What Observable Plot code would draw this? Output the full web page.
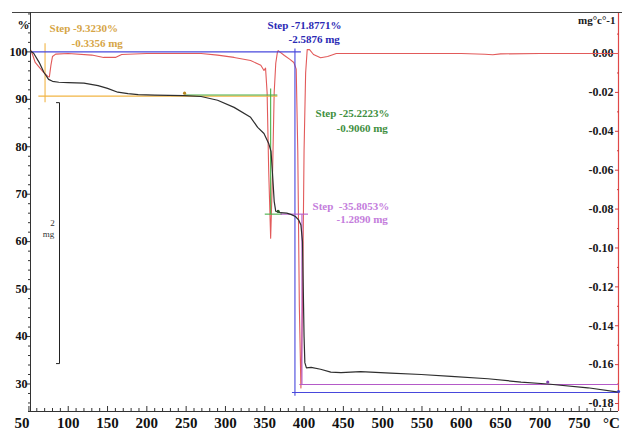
<!DOCTYPE html>
<html><head><meta charset="utf-8">
<script src="https://cdn.jsdelivr.net/npm/d3@7"></script>
<script src="https://cdn.jsdelivr.net/npm/@observablehq/plot@0.6"></script>
<style>
body{margin:0;background:#fff;}
#wrap{position:relative;width:622px;height:430px;overflow:hidden;}
#wrap svg{position:absolute;left:0;top:0;}
</style></head><body><div id="wrap"></div>
<script>
// ---- TG curve (weight %, left axis) ----
const tgTemp = [52, 56, 63, 69, 75, 80, 88, 100, 120, 138, 150, 163, 176, 189, 210, 247, 269, 290, 311, 332, 341, 349, 355, 358, 360, 362, 364, 370, 378, 384, 389, 393, 396, 398, 399, 400, 401, 403, 409, 421, 434, 447, 472, 510, 549, 587, 634, 676, 710, 761, 800];
const tgPct  = [100.2, 99.7, 97.8, 95.7, 94.2, 93.8, 93.6, 93.5, 93.4, 92.9, 92.3, 91.5, 91.2, 91.0, 90.9, 90.8, 90.6, 89.8, 88.3, 86.2, 84.1, 82.8, 80.7, 79.0, 74.0, 68.5, 66.4, 66.1, 66.0, 65.7, 65.3, 64.6, 63.5, 60.0, 50.0, 40.0, 34.5, 33.4, 33.5, 33.1, 32.5, 32.4, 32.6, 32.3, 32.0, 31.6, 31.1, 30.4, 30.0, 29.2, 28.3];

// ---- DTG curve (mg/°C, right axis) ----
const dtgTemp = [52, 55, 58, 63, 69, 74, 76, 78, 80, 84, 100, 130, 145, 160, 168, 200, 269, 290, 311, 332, 345, 349, 351, 353, 355, 357.5, 360, 362, 364, 366, 367, 375, 382, 387, 390, 392, 394, 396, 398, 400, 402, 404, 407, 412, 421, 430, 441, 460, 600, 630, 640, 650, 700, 800];
const dtgVal  = [0.002, -0.001, -0.0046, -0.007, -0.0098, -0.0118, -0.012, -0.006, -0.0015, -0.0003, 0, -0.0008, -0.002, -0.002, -0.0005, 0, 0, -0.0008, -0.002, -0.0036, -0.006, -0.0087, -0.0075, -0.02, -0.06, -0.095, -0.06, -0.02, -0.005, 0.0005, 0.0015, -0.001, -0.003, -0.0046, -0.008, -0.05, -0.13, -0.172, -0.13, -0.05, -0.01, 0.002, 0.002, -0.0005, -0.0022, -0.0015, 0, 0, 0, -0.0004, -0.0006, -0.0002, 0, 0];

// ---- ticks ----
const xTicks = [50, 100, 150, 200, 250, 300, 350, 400, 450, 500, 550, 600, 650, 700, 750];
const xMinor = d3.range(60, 800, 10).filter(t => t % 50 !== 0);
const leftTicks = [30, 40, 50, 60, 70, 80, 90, 100];
const leftMinor = d3.range(26, 109, 2).filter(t => t % 10 !== 0);
const rightTicks = [0, -0.02, -0.04, -0.06, -0.08, -0.10, -0.12, -0.14, -0.16, -0.18];
const rightMinor = [0.01, -0.01, -0.03, -0.05, -0.07, -0.09, -0.11, -0.13, -0.15, -0.17];

// ---- step annotations ----
const stepNames  = ["orange", "blue", "green", "violet"];
const stepTitle  = ["Step -9.3230%", "Step -71.8771%", "Step -25.2223%", "Step\u00a0 -35.8053%"];
const stepMass   = ["-0.3356 mg", "-2.5876 mg", "-0.9060 mg", "-1.2890 mg"];
const stepT1 = [76.2, 353.5, 414.6, 410.8];
const stepP1 = [104.9, 105.6, 87.0, 67.4];
const stepT2 = [104.2, 380.2, 441.3, 441.3];
const stepP2 = [101.8, 102.6, 83.8, 64.7];
const textColor = {orange: "#d6a546", blue: "#2a2ab4", green: "#3f8f3f", violet: "#c47ddc"};
const lineColor = {orange: "#f2b545", blue: "#4848dc", green: "#48b048", violet: "#b45ac8"};

// step construction lines
const segStep = ["orange", "orange", "blue", "blue", "blue", "green", "green", "green", "violet", "violet", "violet"];
const segX1 = [62, 70.5, 52, 388.4, 384.6, 248, 357.5, 350, 370, 397.3, 394];
const segX2 = [366, 70.5, 396, 388.4, 800, 366, 357.5, 372, 405, 397.3, 800];
const segY1 = [90.68, 101.8, 100, 100.7, 28.2, 90.9, 92.3, 65.8, 65.8, 65.8, 29.9];
const segY2 = [90.68, 89.4, 100, 27.5, 28.2, 90.9, 65.8, 65.8, 65.8, 29.9, 29.9];

// 2 mg scale bar
const barX1 = [88.9, 84.5, 84.5];
const barX2 = [88.9, 88.9, 88.9];
const barY1 = [89.3, 89.3, 34.3];
const barY2 = [34.3, 89.3, 34.3];
const barText = ["2", "mg"];
const barTextT = [80, 75];
const barTextP = [64.0, 61.5];

// markers
const markT = [248, 367, 710, 800];
const markP = [91.3, 66.4, 30.4, 28.4];
const markC = ["#b8861e", "#2c5a2c", "#8040b0", "#4040c0"];

const tg = tgTemp.map((t, i) => ({t, p: tgPct[i]}));
const dtg = dtgTemp.map((t, i) => ({t, v: dtgVal[i]}));
const segs = segStep.map((s, i) => ({s, x1: segX1[i], x2: segX2[i], y1: segY1[i], y2: segY2[i]}));
const steps = stepNames.map((s, i) => ({s, a: stepTitle[i], b: stepMass[i], t1: stepT1[i], p1: stepP1[i], t2: stepT2[i], p2: stepP2[i]}));
const bars = barX1.map((x, i) => ({x1: x, x2: barX2[i], y1: barY1[i], y2: barY2[i]}));
const marks = markT.map((t, i) => ({t, p: markP[i], c: markC[i]}));

const FONT = "'Liberation Serif', 'Times New Roman', serif";
const common = {width: 622, height: 430, marginLeft: 30, marginRight: 4, marginTop: 12, marginBottom: 19};
const xDomain = [52, 800];

const dtgPlot = Plot.plot({
  ...common,
  style: {background: "#fff", fontFamily: FONT, color: "#111"},
  x: {domain: xDomain, axis: null, label: null},
  y: {domain: [-0.1841, 0.0211], label: null},
  marks: [
    Plot.ruleX([xDomain[1]], {stroke: "#e04848", strokeWidth: 1.2}),
    Plot.axisY({anchor: "right", ticks: rightTicks, tickSize: 4, dx: -4, text: null, label: null, color: "#d04040"}),
    Plot.axisY({anchor: "right", ticks: rightMinor, tickSize: 2, dx: -2, text: null, label: null, color: "#d04040"}),
    Plot.axisY({anchor: "right", ticks: rightTicks, tickSize: 0, tickPadding: 0, textAnchor: "end", dx: -5, tickFormat: d => d.toFixed(2), label: null, fontSize: 12, fontWeight: "bold", color: "#1a1a1a"}),
    Plot.line(dtg, {x: "t", y: "v", stroke: "#e25a5a", strokeWidth: 1.1}),
    Plot.text(["mg°c°-1"], {frameAnchor: "top-right", textAnchor: "end", dx: -3, dy: 4, fontSize: 11, fontWeight: "bold", fill: "#1a1a1a"})
  ]
});

const tgPlot = Plot.plot({
  ...common,
  style: {background: "transparent", fontFamily: FONT, color: "#111"},
  x: {domain: xDomain, label: null},
  y: {domain: [24.2, 108.3], label: null},
  marks: [
    Plot.ruleY([108.3], {stroke: "#444", strokeWidth: 1, insetLeft: -18, insetRight: -4}),
    Plot.ruleX([xDomain[0]], {stroke: "#333", strokeWidth: 1}),
    Plot.ruleY([24.2], {stroke: "#333", strokeWidth: 1, insetLeft: -2}),
    Plot.axisY({anchor: "left", ticks: leftTicks, tickSize: 4, text: null, label: null, color: "#333"}),
    Plot.axisY({anchor: "left", ticks: leftMinor, tickSize: 2, text: null, label: null, color: "#333"}),
    Plot.axisY({anchor: "left", ticks: leftTicks, tickSize: 0, tickPadding: 3, label: null, fontSize: 12, fontWeight: "bold", color: "#111"}),
    Plot.axisX({anchor: "bottom", ticks: xTicks, tickSize: 5, dy: -5, text: null, label: null, color: "#333"}),
    Plot.axisX({anchor: "bottom", ticks: xMinor, tickSize: 3, dy: -3, text: null, label: null, color: "#333"}),
    Plot.axisX({anchor: "bottom", ticks: xTicks.slice(1), tickSize: 0, tickPadding: 6, label: null, fontSize: 15, fontWeight: "bold", color: "#111"}),
    Plot.axisX({anchor: "bottom", ticks: xTicks.slice(0, 1), tickSize: 0, tickPadding: 6, dx: -7, label: null, fontSize: 15, fontWeight: "bold", color: "#111"}),
    Plot.axisX({anchor: "bottom", ticks: [800], tickSize: 0, tickPadding: 6, dx: -7, tickFormat: () => "°C", label: null, fontSize: 15, fontWeight: "bold", color: "#111"}),
    Plot.text(["%"], {frameAnchor: "top-left", textAnchor: "middle", dx: -7, dy: 8, fontSize: 12, fontWeight: "bold", fill: "#111"}),
    Plot.link(segs, {x1: "x1", x2: "x2", y1: "y1", y2: "y2", stroke: d => lineColor[d.s], strokeWidth: 1.1}),
    Plot.link(bars, {x1: "x1", x2: "x2", y1: "y1", y2: "y2", stroke: "#222", strokeWidth: 1}),
    Plot.text(barText, {x: (d, i) => barTextT[i], y: (d, i) => barTextP[i], text: d => d, fontSize: 9, fill: "#333"}),
    Plot.line(tg, {x: "t", y: "p", stroke: "#2e2e2e", strokeWidth: 1.2}),
    Plot.dot(marks, {x: "t", y: "p", r: 1.6, fill: d => d.c, stroke: "none"}),
    Plot.text(steps, {x: "t1", y: "p1", text: "a", textAnchor: "start", fill: d => textColor[d.s], fontSize: 11, fontWeight: "bold"}),
    Plot.text(steps, {x: "t2", y: "p2", text: "b", textAnchor: "start", fill: d => textColor[d.s], fontSize: 11, fontWeight: "bold"})
  ]
});

const wrap = document.getElementById("wrap");
wrap.appendChild(dtgPlot);
wrap.appendChild(tgPlot);
</script></body></html>
